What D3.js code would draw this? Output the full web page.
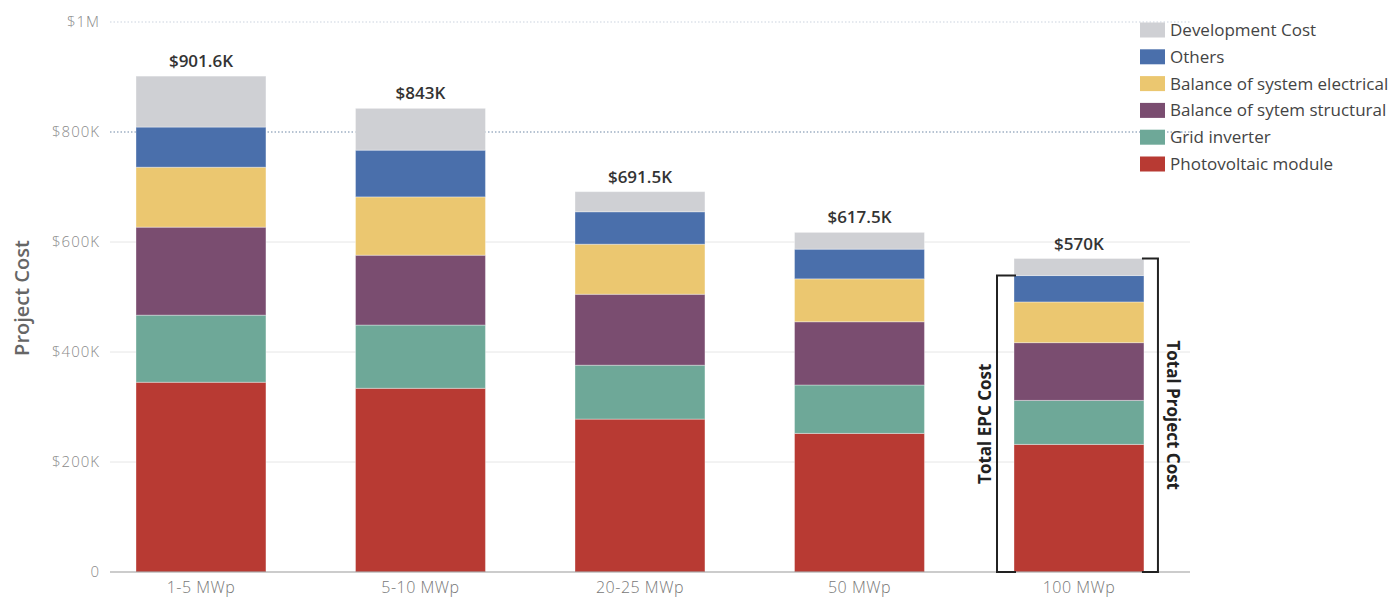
<!DOCTYPE html>
<html>
<head>
<meta charset="utf-8">
<script src="https://cdn.jsdelivr.net/npm/d3@7"></script>
<style>
  body { margin: 0; background: #fff; }
  svg { font-family: "Open Sans", sans-serif; }
</style>
</head>
<body>
<div id="chart"></div>
<script>
// data (thousands of $)
var categories = ['1-5 MWp', '5-10 MWp', '20-25 MWp', '50 MWp', '100 MWp'];
var seriesNames = ['Photovoltaic module', 'Grid inverter', 'Balance of sytem structural',
                   'Balance of system electrical', 'Others', 'Development Cost'];
var photovoltaic = [345, 334, 278, 252, 232];
var gridInverter = [122, 115, 98, 88, 80];
var bosStructural = [160, 127, 129, 115, 105];
var bosElectrical = [109, 106, 91, 78, 74];
var others = [73, 85, 59, 54, 48];
var development = [92.6, 76, 36.5, 30.5, 31];
var totalLabels = ['$901.6K', '$843K', '$691.5K', '$617.5K', '$570K'];
var yTicks = [0, 200, 400, 600, 800, 1000];
var yTickLabels = ['0', '$200K', '$400K', '$600K', '$800K', '$1M'];

var colors = ['#b83a33', '#6ea898', '#7a4d70', '#ebc770', '#4a6fab', '#cfd0d4'];

var width = 1397, height = 600;

var svg = d3.select('#chart').append('svg')
    .attr('width', width)
    .attr('height', height);

var x = d3.scaleBand()
    .domain(categories)
    .range([26.25, 1253.7])
    .paddingInner(0.408)
    .paddingOuter(0.5);

var y = d3.scaleLinear()
    .domain([0, 1000])
    .range([572, 22]);

// build rows for the stack
var allSeries = [photovoltaic, gridInverter, bosStructural, bosElectrical, others, development];
var rows = categories.map(function(c, i) {
    var r = { cat: c };
    seriesNames.forEach(function(s, j) { r[s] = allSeries[j][i]; });
    return r;
});
var stacked = d3.stack().keys(seriesNames)(rows);

// grid lines
svg.selectAll('.grid')
    .data(yTicks.slice(1))
    .enter().append('line')
    .attr('class', 'grid')
    .attr('x1', 110)
    .attr('x2', 1190)
    .attr('y1', function(d) { return y(d); })
    .attr('y2', function(d) { return y(d); })
    .style('stroke', function(d) { return d >= 800 ? '#9fb0c4' : '#e6e6e6'; })
    .style('stroke-width', function(d) { return d >= 800 ? 1.5 : 1; })
    .style('stroke-dasharray', function(d) { return d >= 800 ? '1.5,2' : null; })
    .style('opacity', function(d) { return d == 1000 ? 0.35 : 1; });

// y tick labels
svg.selectAll('.ylab')
    .data(yTicks)
    .enter().append('text')
    .attr('class', 'ylab')
    .attr('x', 100)
    .attr('y', function(d) { return y(d) + 5; })
    .attr('text-anchor', 'end')
    .style('font-size', '15px')
    .style('font-weight', 300)
    .style('letter-spacing', '1px')
    .style('fill', '#8a8a8a')
    .text(function(d, i) { return yTickLabels[i]; });

svg.append('text')
    .attr('transform', 'translate(29,298) rotate(-90)')
    .attr('text-anchor', 'middle')
    .style('font-size', '20px')
    .style('font-weight', 600)
    .style('fill', '#666')
    .text('Project Cost');

// bars
var layer = svg.selectAll('.layer')
    .data(stacked)
    .enter().append('g')
    .attr('class', 'layer')
    .style('fill', function(d, i) { return colors[i]; });

layer.selectAll('rect')
    .data(function(d) { return d; })
    .enter().append('rect')
    .attr('x', function(d) { return x(d.data.cat); })
    .attr('y', function(d) { return y(d[1]); })
    .attr('width', x.bandwidth())
    .attr('height', function(d) { return y(d[0]) - y(d[1]); })
    .style('stroke', '#fff')
    .style('stroke-opacity', 0.35)
    .style('stroke-width', 1);

// x axis line
svg.append('line')
    .attr('x1', 110).attr('x2', 1190)
    .attr('y1', y(0)).attr('y2', y(0))
    .style('stroke', '#999')
    .style('stroke-width', 1);

svg.selectAll('.xlab')
    .data(categories)
    .enter().append('text')
    .attr('class', 'xlab')
    .attr('x', function(d) { return x(d) + x.bandwidth() / 2; })
    .attr('y', 593)
    .attr('text-anchor', 'middle')
    .style('font-size', '16px')
    .style('font-weight', 300)
    .style('letter-spacing', '0.5px')
    .style('fill', '#777')
    .text(function(d) { return d; });

// totals
var topLayer = stacked[stacked.length - 1];
svg.selectAll('.total')
    .data(topLayer)
    .enter().append('text')
    .attr('class', 'total')
    .attr('x', function(d) { return x(d.data.cat) + x.bandwidth() / 2; })
    .attr('y', function(d) { return y(d[1]) - 9; })
    .attr('text-anchor', 'middle')
    .style('font-size', '17px')
    .style('font-weight', 600)
    .style('fill', '#333')
    .text(function(d, i) { return totalLabels[i]; });

// brackets on last bar
var last = categories.length - 1;
var bx0 = x(categories[last]), bx1 = bx0 + x.bandwidth();
var epcTop = y(stacked[4][last][1]);
var totTop = y(stacked[5][last][1]);

svg.append('path')
    .attr('d', 'M' + (bx0 + 2) + ',' + epcTop + 'H' + (bx0 - 17) + 'V' + y(0) + 'H' + (bx0 + 2))
    .style('fill', 'none').style('stroke', '#222').style('stroke-width', 2);
svg.append('path')
    .attr('d', 'M' + (bx1 - 2) + ',' + totTop + 'H' + (bx1 + 14) + 'V' + y(0) + 'H' + (bx1 - 2))
    .style('fill', 'none').style('stroke', '#222').style('stroke-width', 2);

svg.append('text')
    .attr('transform', 'translate(' + (bx0 - 23) + ',' + ((epcTop + y(0)) / 2) + ') rotate(-90)')
    .attr('text-anchor', 'middle')
    .style('font-size', '17px')
    .style('font-weight', 'bold')
    .style('fill', '#222')
    .text('Total EPC Cost');
svg.append('text')
    .attr('transform', 'translate(' + (bx1 + 23) + ',' + ((totTop + y(0)) / 2) + ') rotate(90)')
    .attr('text-anchor', 'middle')
    .style('font-size', '17px')
    .style('font-weight', 'bold')
    .style('fill', '#222')
    .text('Total Project Cost');

// legend, top entry first
var legendItems = seriesNames.slice().reverse();
var legend = svg.selectAll('.legend')
    .data(legendItems)
    .enter().append('g')
    .attr('class', 'legend')
    .attr('transform', function(d, i) { return 'translate(1140,' + (30 + i * 26.8) + ')'; });

legend.append('rect')
    .attr('x', 0).attr('y', -7.5)
    .attr('width', 25).attr('height', 15)
    .style('fill', function(d, i) { return colors[colors.length - 1 - i]; });

legend.append('text')
    .attr('x', 30)
    .attr('y', 6)
    .style('font-size', '17px')
    .style('fill', '#444')
    .text(function(d) { return d; });
</script>
</body>
</html>
